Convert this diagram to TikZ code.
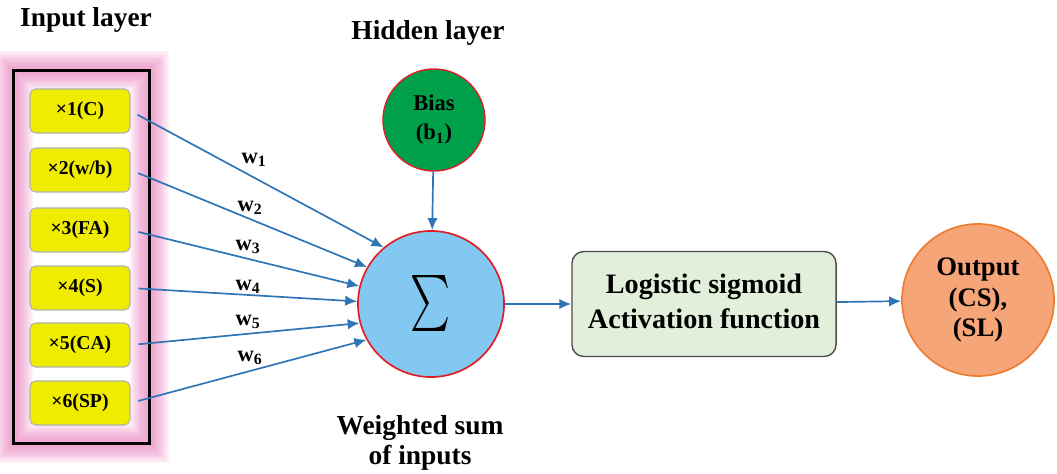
\documentclass[tikz,border=0pt]{standalone}
\usepackage{fontspec}
\setmainfont{Liberation Serif}
\usetikzlibrary{arrows.meta}
\usepackage{xcolor}
\definecolor{linkblue}{RGB}{46,117,182}
\definecolor{inyellow}{RGB}{240,236,0}
\definecolor{glowpink}{RGB}{232,120,185}
\definecolor{biasgreen}{RGB}{0,160,75}
\definecolor{sumblue}{RGB}{130,200,240}
\definecolor{ringred}{RGB}{225,30,40}
\definecolor{actgreen}{RGB}{226,239,218}
\definecolor{outorange}{RGB}{245,165,120}
\definecolor{outring}{RGB}{237,125,49}

\begin{document}
\begin{tikzpicture}[x=0.025cm, y=-0.025cm, font=\bfseries,
    inbox/.style={rectangle, draw=gray!60, line width=0.8pt, fill=inyellow, rounded corners=4pt, minimum width=2.5cm, minimum height=1.1cm, font=\fontsize{14}{16}\selectfont\bfseries},
    title/.style={align=center, font=\fontsize{19.5}{21.5}\selectfont\bfseries},
    link/.style={-{Latex[length=0.3cm, width=0.26cm]}, linkblue, line width=1.2pt},
    wlabel/.style={font=\fontsize{16}{18}\selectfont\bfseries}]
    \useasboundingbox (0,0) rectangle (1057,473);
    \node[title] (inlayer) at (86,20) {Input layer};
    \node[title] (hidlayer) at (428,33) {Hidden layer};
    \node[title] (wsum) at (420,443) {Weighted sum\\of inputs};
    \node[minimum width=3.375cm, minimum height=9.3cm] (inframe) at (81.5,257) {};
    \foreach \w in {2,4,...,28}
        \draw[glowpink, line width=\w pt, opacity=0.08] (inframe.south west) rectangle (inframe.north east);
    \draw[line width=2pt] (inframe.south west) rectangle (inframe.north east);
    \node[circle, draw=ringred, line width=1.2pt, fill=sumblue, minimum size=3.65cm, inner sep=0pt] (sum) at (431,304) {\resizebox*{1cm}{1.4cm}{$\sum$}};
    \node[circle, draw=ringred, line width=1pt, fill=biasgreen, minimum size=2.55cm, inner sep=0pt, align=center, font=\fontsize{16}{20.5}\selectfont\bfseries] (bias) at (434,120) {Bias\\(b\textsubscript{1})};
    \node[rectangle, draw=black!70, line width=1pt, fill=actgreen, rounded corners=0.3cm, minimum width=6.6cm, minimum height=2.625cm, align=center, font=\fontsize{20}{23.5}\selectfont\bfseries] (act) at (704,304) {\raisebox{4pt}{\shortstack{Logistic sigmoid\\[3pt]Activation function}}};
    \node[circle, draw=outring, line width=1.2pt, fill=outorange, minimum size=3.8cm, inner sep=0pt, align=center, font=\fontsize{19}{21.5}\selectfont\bfseries] (out) at (978,300) {Output\\(CS),\\(SL)};
    \foreach \i/\y/\lab/\ang/\wx/\wy in {1/111/{×1(C)}/130/254/160, 2/170/{×2(w/b)}/150/250/208, 3/230/{×3(FA)}/166/248/247, 4/288/{×4(S)}/178/248/287, 5/345/{×5(CA)}/195/248/322, 6/403/{×6(SP)}/209/250/358} {
        \node[inbox] (in\i) at (80,\y) {\lab};
        \draw[link, shorten <=0.2cm] (in\i.east) -- (sum.\ang);
        \node[wlabel] (w\i) at (\wx,\wy) {w\textsubscript{\i}};
    }
    \draw[link] (bias) -- (sum);
    \draw[link] (sum) -- (act);
    \draw[link] (act) -- (out);
\end{tikzpicture}
\end{document}
